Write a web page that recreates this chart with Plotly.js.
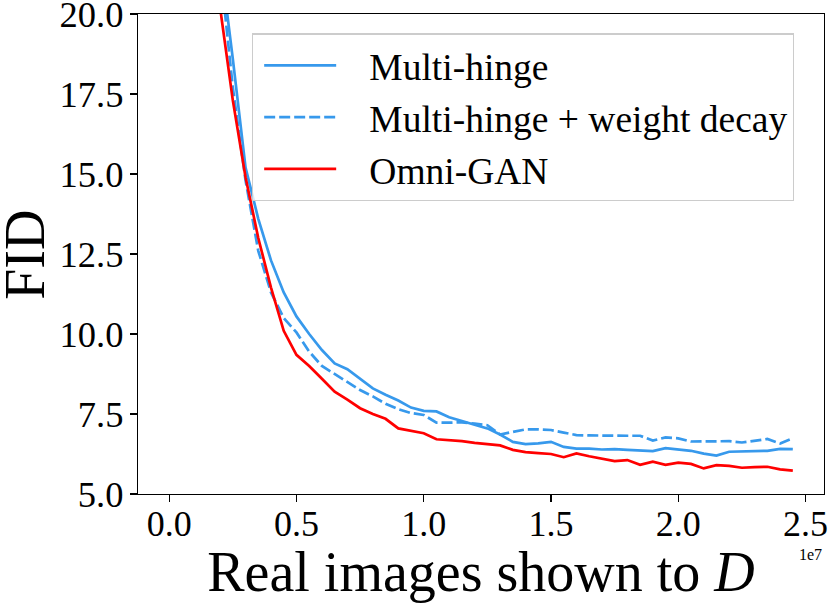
<!DOCTYPE html>
<html>
<head>
<meta charset="utf-8">
<script src="https://cdn.plot.ly/plotly-3.0.1.min.js"></script>
<style>html,body{margin:0;padding:0;background:#fff;}#chart{width:831px;height:603px;}</style>
</head>
<body>
<div id="chart"></div>
<script>
// Real images shown to D (units of 1e7)
const steps = [0.20,0.25,0.30,0.35,0.40,0.45,0.50,0.55,0.60,0.65,0.70,0.75,0.80,0.85,0.90,0.95,
  1.00,1.05,1.10,1.15,1.20,1.25,1.30,1.35,1.40,1.45,1.50,1.55,1.60,1.65,1.70,1.75,1.80,1.85,1.90,1.95,
  2.00,2.05,2.10,2.15,2.20,2.25,2.30,2.35,2.40,2.45];

const multiHinge = [21.8,18.6,15.2,13.6,12.3,11.3,10.55,10.0,9.5,9.08,8.9,8.6,8.3,8.1,7.92,7.7,
  7.6,7.58,7.40,7.28,7.16,7.05,6.86,6.63,6.56,6.58,6.63,6.47,6.42,6.42,6.39,6.40,6.38,6.37,6.34,6.43,
  6.40,6.35,6.26,6.20,6.32,6.33,6.34,6.35,6.41,6.40];

const multiHingeWD = [21.5,17.7,14.8,12.6,11.3,10.5,10.05,9.45,9.0,8.75,8.5,8.25,8.05,7.82,7.65,7.53,
  7.47,7.23,7.23,7.24,7.2,7.15,6.86,6.95,7.02,7.02,7.0,6.92,6.84,6.83,6.82,6.82,6.82,6.82,6.67,6.77,
  6.74,6.64,6.65,6.66,6.65,6.61,6.66,6.72,6.58,6.74];

const omniGAN = [20.2,17.3,14.9,13.0,11.45,10.1,9.35,9.0,8.6,8.2,7.95,7.68,7.5,7.35,7.05,6.98,
  6.9,6.71,6.69,6.65,6.6,6.55,6.52,6.38,6.31,6.28,6.25,6.15,6.27,6.18,6.1,6.03,6.06,5.91,6.01,5.91,
  5.98,5.94,5.80,5.90,5.88,5.82,5.84,5.85,5.77,5.73];

const xTickVals = [0.0,0.5,1.0,1.5,2.0,2.5];
const xTickText = ["0.0","0.5","1.0","1.5","2.0","2.5"];
const yTickVals = [5.0,7.5,10.0,12.5,15.0,17.5,20.0];
const yTickText = ["5.0","7.5","10.0","12.5","15.0","17.5","20.0"];

const seriesNames = ["Multi-hinge","Multi-hinge + weight decay","Omni-GAN"];
const yTitle = "FID";
const xTitle = "Real images shown to <i>D</i>";
const xExponent = "1e7";

const BLUE = "#3799ec";
const RED = "#ff0000";
const FONT = "Liberation Serif";
const GAP = "\u00a0\u00a0\u00a0";

const traces = [
  {x: steps, y: multiHinge, name: GAP + seriesNames[0], type: "scatter", mode: "lines",
   line: {color: BLUE, width: 2.7}},
  {x: steps, y: multiHingeWD, name: GAP + seriesNames[1], type: "scatter", mode: "lines",
   line: {color: BLUE, width: 2.7, dash: "11px,4px"}},
  {x: steps, y: omniGAN, name: GAP + seriesNames[2], type: "scatter", mode: "lines",
   line: {color: RED, width: 2.7}}
];

const layout = {
  width: 831, height: 603,
  margin: {l: 138, r: 7, t: 14, b: 109, pad: 0},
  paper_bgcolor: "#ffffff", plot_bgcolor: "#ffffff",
  font: {family: FONT, color: "#000000", size: 36},
  showlegend: true,
  legend: {
    x: 0.166, y: 0.96, xanchor: "left", yanchor: "top",
    bgcolor: "rgba(255,255,255,0.8)", bordercolor: "#cccccc", borderwidth: 1.3,
    font: {family: FONT, size: 37.5, color: "#000000"},
    itemwidth: 72, indentation: 6, tracegroupgap: 0
  },
  xaxis: {
    range: [-0.1225, 2.5725], tickmode: "array", tickvals: xTickVals, ticktext: xTickText,
    showgrid: false, zeroline: false, showline: true, linecolor: "#000", linewidth: 1.3,
    mirror: true, ticks: "outside", ticklen: 7, tickwidth: 1.3, tickcolor: "#000",
    tickfont: {family: FONT, size: 36, color: "#000"}, ticklabelstandoff: -10,
    ticklabeloverflow: "allow",
    title: {text: xTitle, font: {family: FONT, size: 56, color: "#000"}, standoff: 4},
    automargin: false
  },
  yaxis: {
    range: [5, 20.0005], tickmode: "array", tickvals: yTickVals, ticktext: yTickText,
    showgrid: false, zeroline: false, showline: true, linecolor: "#000", linewidth: 1.3,
    mirror: true, ticks: "outside", ticklen: 7, tickwidth: 1.3, tickcolor: "#000",
    tickfont: {family: FONT, size: 36.5, color: "#000"}, ticklabelstandoff: -1,
    ticklabeloverflow: "allow",
    automargin: false
  },
  annotations: [
    {text: yTitle, xref: "paper", yref: "paper", x: -0.165, y: 0.498, showarrow: false,
     textangle: -90, xanchor: "center", yanchor: "middle",
     font: {family: FONT, size: 56, color: "#000"}},
    {text: xExponent, xref: "paper", yref: "paper", x: 0.981, y: -0.127, showarrow: false,
     xanchor: "center", yanchor: "middle", font: {family: FONT, size: 16, color: "#000"}}
  ]
};

Plotly.newPlot("chart", traces, layout, {displayModeBar: false, staticPlot: true});
</script>
</body>
</html>
